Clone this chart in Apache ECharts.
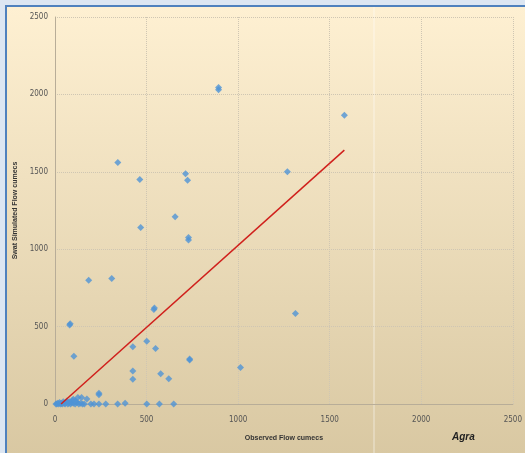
<!DOCTYPE html>
<html>
<head>
<meta charset="utf-8">
<script src="https://cdn.jsdelivr.net/npm/echarts@6/dist/echarts.min.js"></script>
<style>
    html, body { margin: 0; padding: 0; background: #dce6f2; }
    #main { width: 525px; height: 453px; }
</style>
</head>
<body>
<div id="main"></div>
<script>
// observed flow (x) and simulated flow (y), cumecs
var obsX = [893, 893, 1580, 1269, 1313, 1013, 343, 463, 468, 656, 713, 724, 729, 729,
    184, 310, 540, 543, 80, 83, 103, 425, 501, 549, 425, 425, 577, 621, 735, 735,
    240, 240, 125, 145, 174, 196, 213, 240, 277, 342, 383, 501, 570, 648,
    5, 10, 15, 20, 25, 30, 35, 40, 45, 50, 55, 60, 65, 70, 75, 80, 85, 90, 95,
    100, 110, 115, 120, 130, 140, 150, 160, 100, 110];
var simY = [2030, 2045, 1865, 1500, 585, 235, 1560, 1450, 1140, 1210, 1488, 1445, 1060, 1075,
    800, 810, 610, 620, 510, 518, 308, 370, 405, 358, 213, 160, 195, 163, 284, 290,
    60, 70, 42, 42, 32, 0, 0, 0, 0, 0, 5, 0, 0, 0,
    0, 0, 5, 0, 10, 0, 5, 0, 15, 5, 0, 10, 20, 0, 5, 15, 0, 10, 25,
    5, 0, 15, 10, 0, 5, 0, 0, 30, 20];

// red fitted line end points
var fitX = [33, 1580];
var fitY = [0, 1640];

// axis ticks
var xTicks = [0, 500, 1000, 1500, 2000, 2500];
var yTicks = [0, 500, 1000, 1500, 2000, 2500];

var points = obsX.map(function(x, i){ return [x, simY[i]]; });
var fit = fitX.map(function(x, i){ return [x, fitY[i]]; });

var myChart = echarts.init(document.getElementById('main'));

var gridLine = {
    show: true,
    lineStyle: { color: '#cfc6b3', type: [1, 1], width: 1 }
};

var tickFont = { margin: 12, fontSize: 8, color: '#555', fontFamily: 'DejaVu Sans Condensed, DejaVu Sans',
    formatter: function(v){ return String(v); } };

var option = {
    animation: false,
    graphic: [{
        type: 'rect',
        shape: { x: 5, y: 5, width: 530, height: 460 },
        style: { fill: '#4f81bd' },
        z: -2
    }, {
        type: 'rect',
        shape: { x: 7, y: 7, width: 530, height: 460 },
        style: {
            fill: new echarts.graphic.LinearGradient(0, 0, 0, 1, [
                { offset: 0, color: '#fef0d2' },
                { offset: 1, color: '#d8c7a1' }
            ])
        },
        z: -1
    }, {
        type: 'line',
        shape: { x1: 374, y1: 7, x2: 374, y2: 453 },
        style: { stroke: 'rgba(255,255,255,0.55)', lineWidth: 1 },
        z: 0
    }, {
        type: 'text',
        left: 452,
        top: 432,
        style: {
            text: 'Agra',
            font: 'italic bold 10px "Liberation Sans"',
            fill: '#222'
        }
    }],
    //网格图标设置
    grid: {
        left: 55,
        right: 11,
        top: 17,
        bottom: 49
    },
    // x 轴坐标设置
    xAxis: {
        type: 'value',
        min: xTicks[0],
        max: xTicks[xTicks.length - 1],
        interval: 500,
        name: 'Observed Flow cumecs',
        nameLocation: 'middle',
        nameGap: 31,
        nameTextStyle: { fontSize: 7, fontWeight: 'bold', color: '#333', fontFamily: 'Liberation Sans' },
        axisLine: { lineStyle: { color: '#b8ad98' } },
        axisTick: { show: false },
        axisLabel: tickFont,
        splitLine: gridLine
    },
    // y 轴坐标设置
    yAxis: {
        type: 'value',
        min: yTicks[0],
        max: yTicks[yTicks.length - 1],
        interval: 500,
        name: 'Swat Simulated Flow cumecs',
        nameLocation: 'middle',
        nameGap: 30,
        nameTextStyle: { fontSize: 7, fontWeight: 'bold', color: '#333', fontFamily: 'Liberation Sans' },
        axisLine: { show: true, lineStyle: { color: '#b8ad98' } },
        axisTick: { show: false },
        axisLabel: $extend(tickFont, { margin: 7 }),
        splitLine: gridLine
    },
    //数据以及数据图设置
    series: [{
        type: 'scatter',
        symbol: 'diamond',
        symbolSize: 7,
        itemStyle: { color: '#4f93d6' },
        data: points,
        z: 3
    }, {
        type: 'line',
        symbol: 'none',
        lineStyle: { color: '#d0201c', width: 1.5 },
        data: fit,
        z: 4
    }]
};

function $extend(a, b){
    var o = {};
    for (var k in a) o[k] = a[k];
    for (var j in b) o[j] = b[j];
    return o;
}

myChart.setOption(option);
</script>
</body>
</html>
